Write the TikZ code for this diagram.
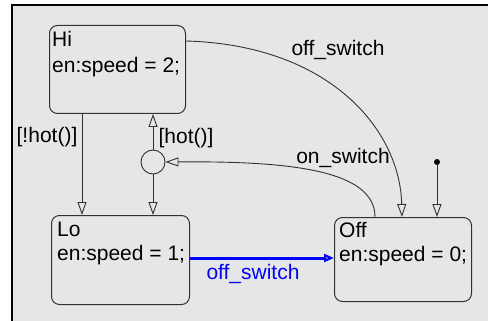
\documentclass[tikz,border=0pt]{standalone}
\usepackage{fontspec}
\setmainfont{Liberation Sans}
\usetikzlibrary{arrows.meta,calc}
\definecolor{bg}{RGB}{230,230,230}
\definecolor{ln}{RGB}{50,50,50}
\begin{document}
\begin{tikzpicture}[x=1pt,y=-1pt,
  state/.style={draw=ln, line width=1pt, rounded corners=8pt, inner sep=0pt, anchor=north west},
  txt/.style={anchor=base west, inner sep=0pt, font=\fontsize{21}{24}\selectfont},
  lbl/.style={inner sep=0pt, font=\fontsize{21}{24}\selectfont},
  trans/.style={draw=ln, line width=0.9pt, -{Triangle[open,length=13pt,width=9pt]}},
  hl/.style={draw=blue, line width=3pt, -{Triangle[open,length=10pt,width=8pt,line width=2.2pt]}}
]
\useasboundingbox (0,0) rectangle (488,321);
\fill[bg] (12,5) rectangle (488,321);
\draw[line width=1.2pt] (12,321) -- (12,5) -- (488,5);
% states
\node[state, minimum width=136pt, minimum height=88pt] (Hi) at (49,25) {};
\node[state, minimum width=138pt, minimum height=89pt] (Lo) at (51,215) {};
\node[state, minimum width=137pt, minimum height=84pt] (Off) at (334,217) {};
\node[txt] (hi1) at (52,47) {Hi};
\node[txt] (hi2) at (52,73) {en:speed = 2;};
\node[txt] (lo1) at (57,236) {Lo};
\node[txt] (lo2) at (57,260) {en:speed = 1;};
\node[txt] (off1) at (339,237) {Off};
\node[txt] (off2) at (339,261) {en:speed = 0;};
% junction and default dot
\node[circle, draw=ln, line width=0.9pt, minimum size=24pt, inner sep=0pt] (J) at (153,162) {};
\node[circle, fill=black, minimum size=6pt, inner sep=0pt] (def) at (437,162) {};
% transitions
\draw[trans] ($(Hi.north east)+(0,16)$) .. controls (330,45) and (400,130) .. ($(Off.north west)+(68,0)$);
\draw[trans] (def) -- (def |- Off.north);
\draw[trans] ($(Off.north west)+(41,0)$) .. controls (375,170) and (290,161) .. (J.east);
\draw[trans] (J) -- (J |- Hi.south);
\draw[trans] (J) -- (J |- Lo.north);
\draw[trans] ($(Hi.south west)+(33,0)$) -- ($(Lo.north west)+(31,0)$);
\draw[hl] ($(Lo.north east)+(0,43)$) -- ($(Off.north west)+(0,41)$);
% labels
\node[lbl] (l1) at (338,50) {off\_switch};
\node[lbl] (l2) at (343,158) {on\_switch};
\node[lbl] (l3) at (47,137) {[!hot()]};
\node[lbl] (l4) at (186,138) {[hot()]};
\node[lbl, text=blue] (l5) at (253,274) {off\_switch};
\end{tikzpicture}
\end{document}
